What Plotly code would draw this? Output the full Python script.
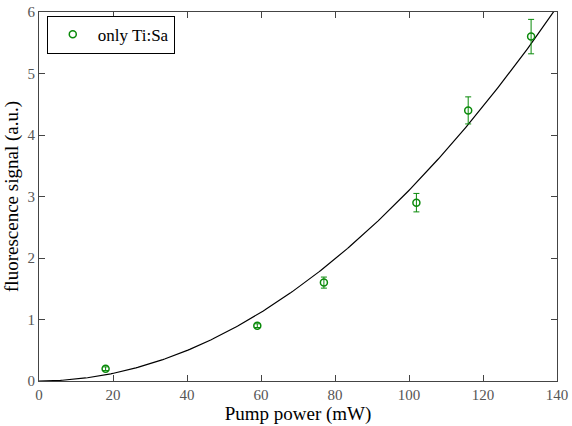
import numpy as np
import plotly.graph_objects as go

# Data
pump_power = [18, 59, 77, 102, 116, 133]
signal = [0.2, 0.9, 1.6, 2.9, 4.4, 5.6]
signal_err = [0.03, 0.03, 0.09, 0.15, 0.22, 0.28]

# Quadratic fit coefficient (fluorescence ~ a * P^2)
fit_coeff = 3.1e-4
fit_x = np.linspace(0, 145, 300)
fit_y = fit_coeff * fit_x ** 2

green = "#0a8a0a"
axis_col = "#444444"
serif = "Liberation Serif"

fig = go.Figure()
fig.add_trace(go.Scatter(
    x=fit_x, y=fit_y, mode="lines",
    line=dict(color="black", width=1.2),
    showlegend=False, hoverinfo="skip",
))
fig.add_trace(go.Scatter(
    x=pump_power, y=signal, mode="markers", name="only Ti:Sa",
    marker=dict(symbol="circle-open", size=7, color=green, line=dict(width=1.5, color=green)),
    error_y=dict(type="data", array=signal_err, visible=True, color=green, thickness=1, width=3),
))

axis_common = dict(
    showgrid=False, zeroline=False, showline=True, linecolor=axis_col, linewidth=1.2,
    mirror="ticks", ticks="inside", ticklen=6, tickcolor=axis_col, tickwidth=1,
    tickfont=dict(family=serif, size=15, color="#555555"), automargin=False,
)

fig.update_layout(
    width=572, height=426,
    margin=dict(l=39, r=15, t=12, b=45),
    paper_bgcolor="white", plot_bgcolor="white",
    font=dict(family=serif, color="black"),
    xaxis=dict(range=[0, 140], tickvals=[0, 20, 40, 60, 80, 100, 120, 140],
               title=dict(text="Pump power (mW)", font=dict(size=19, family=serif), standoff=1),
               **axis_common),
    yaxis=dict(range=[0, 6], tickvals=[0, 1, 2, 3, 4, 5, 6],
               title=dict(text="fluorescence signal (a.u.)", font=dict(size=19, family=serif), standoff=3),
               **axis_common),
    legend=dict(x=0.015, y=0.99, xanchor="left", yanchor="top",
                bordercolor="black", borderwidth=1, bgcolor="white", itemwidth=40,
                font=dict(family=serif, size=17, color="black")),
    showlegend=True,
)

fig.write_html("out.html")
